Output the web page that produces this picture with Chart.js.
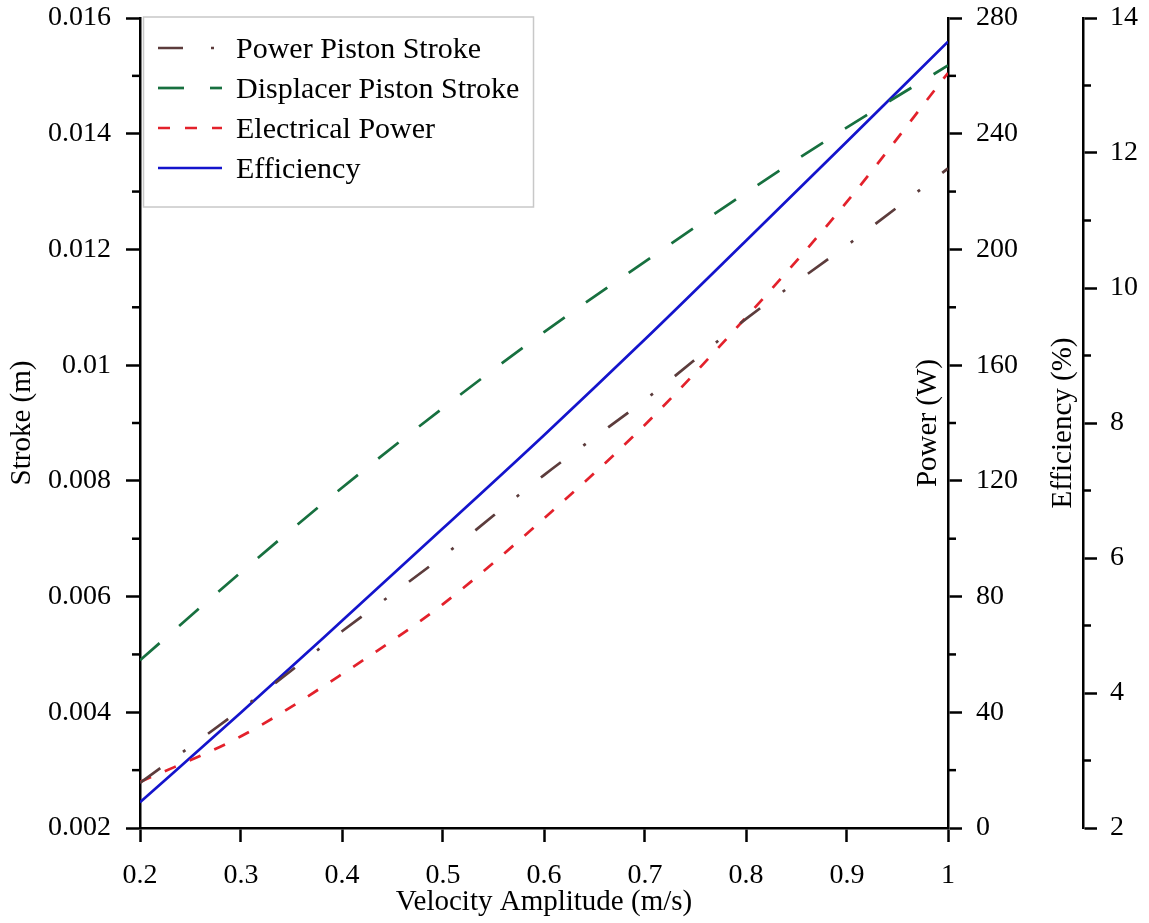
<!DOCTYPE html>
<html><head><meta charset="utf-8">
<script src="https://cdn.jsdelivr.net/npm/chart.js@4"></script>
<style>html,body{margin:0;padding:0;background:#fff;overflow:hidden}</style>
</head><body>
<canvas id="c" width="1149" height="923"></canvas>
<script>
const velocity = [0.2, 0.3, 0.4, 0.5, 0.6, 0.7, 0.8, 0.9, 1.0];
const powerPistonStroke = [0.00278, 0.00405, 0.0054, 0.0067, 0.0081, 0.0094, 0.0108, 0.01207, 0.0134];
const displacerPistonStroke = [0.0049, 0.00642, 0.00788, 0.00926, 0.01057, 0.01179, 0.01298, 0.01411, 0.01518];
const electricalPower = [15.9, 31.7, 53.2, 77.4, 107, 139.4, 176.5, 216.5, 261];
const efficiency = [2.38, 3.71, 5.07, 6.44, 7.82, 9.24, 10.70, 12.17, 13.65];

const seriesNames = ['Power Piston Stroke', 'Displacer Piston Stroke', 'Electrical Power', 'Efficiency'];
const seriesColors = ['#5c3c3c', '#17703f', '#e3212b', '#1414cc'];
const seriesDash = [[25, 28, 3, 28], [26, 26], [12, 15], []];
const axisTitles = { x: 'Velocity Amplitude (m/s)', y: 'Stroke (m)', yP: 'Power (W)', yE: 'Efficiency (%)' };

const FONT = "'Liberation Serif', 'Times New Roman', serif";
const FS = 28;

function pts(ys) { return velocity.map((v, i) => ({ x: v, y: ys[i] })); }

const extras = {
  id: 'extras',
  afterDraw(chart) {
    const ctx = chart.ctx;
    ctx.save();
    ctx.strokeStyle = '#000';
    ctx.lineWidth = 2.5;
    // minor ticks
    const specs = [['y', 0.001, -1], ['yP', 20, 1], ['yE', 1, 1]];
    for (const [id, step, dir] of specs) {
      const s = chart.scales[id];
      const x0 = dir < 0 ? s.right : s.left;
      const n = Math.round((s.max - s.min) / step);
      for (let k = 1; k < n; k += 2) {
        const y = s.getPixelForValue(s.min + k * step);
        ctx.beginPath(); ctx.moveTo(x0, y); ctx.lineTo(x0 + dir * 8, y); ctx.stroke();
      }
    }
    // right-axis titles, reading bottom to top
    const ca = chart.chartArea;
    const cy = (ca.top + ca.bottom) / 2;
    ctx.fillStyle = '#000';
    ctx.font = '29px ' + FONT;
    ctx.textAlign = 'center';
    ctx.textBaseline = 'middle';
    const items = [[axisTitles.yP, chart.scales.yP.left - 20], [axisTitles.yE, chart.scales.yE.left - 20]];
    for (const [t, x] of items) {
      ctx.save(); ctx.translate(x, cy); ctx.rotate(-Math.PI / 2); ctx.fillText(t, 0, 0); ctx.restore();
    }
    // legend
    const lx = ca.left + 3.5, ly = ca.top - 1;
    ctx.fillStyle = '#fff';
    ctx.fillRect(lx, ly, 390, 190);
    ctx.strokeStyle = '#c8c8c8';
    ctx.lineWidth = 1.5;
    ctx.strokeRect(lx, ly, 390, 190);
    ctx.font = '30px ' + FONT;
    ctx.textAlign = 'left';
    chart.data.datasets.forEach((ds, i) => {
      const y = ly + 31 + i * 40;
      ctx.strokeStyle = ds.borderColor;
      ctx.lineWidth = ds.borderWidth;
      ctx.setLineDash(ds.borderDash || []);
      ctx.beginPath(); ctx.moveTo(lx + 14.5, y); ctx.lineTo(lx + 78.5, y); ctx.stroke();
      ctx.setLineDash([]);
      ctx.fillStyle = '#000';
      ctx.fillText(ds.label, lx + 92.5, y + 2);
    });
    ctx.restore();
  }
};

const tickFont = { family: FONT, size: FS };
const titleFont = { family: FONT, size: 29 };
const noPad = s => { s.paddingTop = 0; s.paddingBottom = 0; s.paddingLeft = 0; s.paddingRight = 0; };
const axisCommon = (extra) => Object.assign({
  type: 'linear',
  border: { display: true, color: '#000', width: 2.5 },
  grid: { drawOnChartArea: false, drawTicks: true, tickLength: 14, tickWidth: 2.5, tickColor: '#000' },
}, extra);

new Chart(document.getElementById('c'), {
  type: 'line',
  data: {
    datasets: seriesNames.map((name, i) => ({
      label: name,
      data: pts([powerPistonStroke, displacerPistonStroke, electricalPower, efficiency][i]),
      yAxisID: ['y', 'y', 'yP', 'yE'][i],
      borderColor: seriesColors[i],
      borderWidth: 2.7,
      borderDash: seriesDash[i],
      pointRadius: 0,
      cubicInterpolationMode: 'monotone',
      fill: false
    }))
  },
  options: {
    responsive: false,
    animation: false,
    devicePixelRatio: 1,
    layout: { padding: { top: 18, left: 0, right: 0, bottom: 0 } },
    plugins: {
      tooltip: { enabled: false },
      legend: { display: false }
    },
    scales: {
      x: axisCommon({
        position: 'bottom', min: 0.2, max: 1,
        ticks: { stepSize: 0.1, font: tickFont, color: '#000', padding: 17, maxRotation: 0, callback: v => String(Math.round(v * 10) / 10) },
        title: { display: true, text: axisTitles.x, font: titleFont, color: '#000', padding: { top: 0, bottom: 3 } },
        afterFit: s => { s.height = 95; noPad(s); }
      }),
      y: axisCommon({
        position: 'left', min: 0.002, max: 0.016,
        ticks: { stepSize: 0.002, font: tickFont, color: '#000', padding: 15, callback: v => String(+v.toFixed(3)) },
        title: { display: true, text: axisTitles.y, font: titleFont, color: '#000', padding: { top: 5, bottom: 0 } },
        afterFit: s => { s.width = 140; noPad(s); }
      }),
      yP: axisCommon({
        position: 'right', weight: 0, min: 0, max: 280,
        ticks: { stepSize: 40, font: tickFont, color: '#000', padding: 14 },
        afterFit: s => { s.width = 135; noPad(s); }
      }),
      yE: axisCommon({
        position: 'right', weight: 1, min: 2, max: 14,
        ticks: { stepSize: 2, font: tickFont, color: '#000', padding: 13 },
        afterFit: s => { s.width = 66; noPad(s); }
      })
    }
  },
  plugins: [extras]
});
</script>
</body></html>
